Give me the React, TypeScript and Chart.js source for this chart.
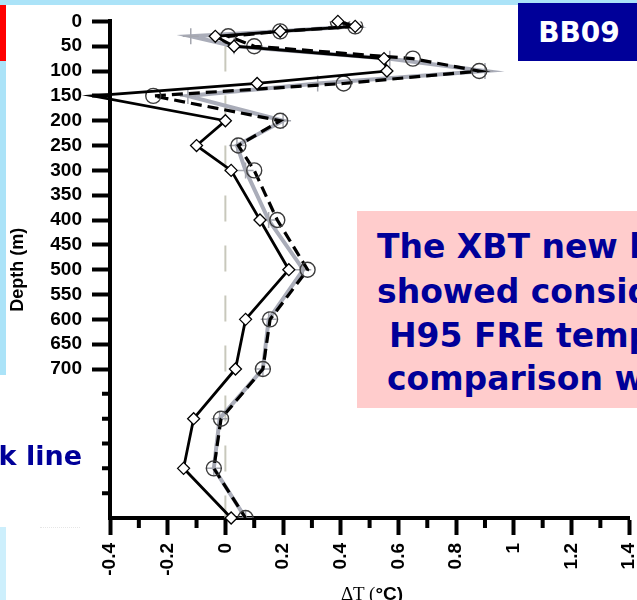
import React, { useEffect, useRef } from "react";
import { Chart, registerables } from "chart.js";

Chart.register(...registerables);

// Depth levels (m) shared by the three temperature-difference profiles
const DEPTHS = [0, 10, 20, 30, 50, 75, 100, 125, 150, 200, 250, 300, 400, 500, 600, 700, 800, 900, 1000];

// ΔT (°C) for each profile, one value per depth level
const DT_SOLID = [0.39, 0.45, 0.19, -0.035, 0.03, 0.55, 0.56, 0.11, -0.46, 0.0, -0.1, 0.02, 0.12, 0.22, 0.07, 0.035, -0.11, -0.145, 0.02];
const DT_DASHED = [0.39, 0.45, 0.19, 0.01, 0.1, 0.65, 0.88, 0.41, -0.25, 0.19, 0.045, 0.1, 0.18, 0.285, 0.155, 0.13, -0.015, -0.04, 0.07];
const DT_GRAY = [0.39, 0.45, 0.19, -0.12, 0.03, 0.57, 0.9, 0.32, -0.13, 0.2, 0.04, 0.07, 0.15, 0.27, 0.15, 0.13, -0.02, -0.04, 0.07];

// Axis ticks
const X_TICKS = [-0.4, -0.2, 0, 0.2, 0.4, 0.6, 0.8, 1, 1.2, 1.4];
const X_MINOR = [-0.3, -0.1, 0.1, 0.3, 0.5, 0.7, 0.9, 1.1, 1.3];
const Y_TICKS = [0, 50, 100, 150, 200, 250, 300, 350, 400, 450, 500, 550, 600, 650, 700, 750, 800, 850, 900, 950, 1000];
const Y_LABEL_MAX = 700;
const Y_MINOR = [750, 800, 850, 900, 950];

// Slide text
const BADGE = "BB09";
const NOTE_LINES = ["The XBT new line", "showed considerable", "H95 FRE temperature", "comparison with CTD"];
const SIDE_NOTE = "black line";

const SANS = "'Liberation Sans', Arial, sans-serif";
const SLIDE_FONT = "'DejaVu Sans', Verdana, sans-serif";
const NAVY = "#000099";

const toPoints = (xs: number[]) => xs.map((v, i) => ({ x: v, y: DEPTHS[i] }));

const minorTicks = {
  id: "minorTicks",
  afterDraw(chart: any) {
    const { ctx, chartArea, scales } = chart;
    const x = scales.x;
    const y = scales.y;
    ctx.save();
    ctx.strokeStyle = "#000";
    ctx.lineWidth = 4;
    ctx.beginPath();
    X_MINOR.forEach((v) => {
      const px = x.getPixelForValue(v);
      ctx.moveTo(px, chartArea.bottom);
      ctx.lineTo(px, chartArea.bottom + 10);
    });
    Y_MINOR.forEach((v) => {
      const py = y.getPixelForValue(v);
      ctx.moveTo(chartArea.left - 8, py);
      ctx.lineTo(chartArea.left, py);
    });
    ctx.stroke();
    ctx.restore();
  },
};

export default function App() {
  const ref = useRef<HTMLCanvasElement>(null);

  useEffect(() => {
    const canvas = ref.current;
    if (!canvas) return;
    const chart = new Chart(canvas, {
      type: "line",
      data: {
        datasets: [
          {
            label: "solid",
            data: toPoints(DT_SOLID),
            borderColor: "#000",
            borderWidth: 2.8,
            tension: 0,
            pointStyle: "rectRot",
            pointRadius: 6,
            pointBackgroundColor: "#fff",
            pointBorderColor: "#000",
            pointBorderWidth: 1.3,
            clip: false,
            order: 0,
          },
          {
            label: "dashed",
            data: toPoints(DT_DASHED),
            borderColor: "#000",
            borderWidth: 3.2,
            borderDash: [11, 6],
            tension: 0,
            pointStyle: "circle",
            pointRadius: 7.5,
            pointBackgroundColor: "rgba(0,0,0,0)",
            pointBorderColor: "#3c3c3c",
            pointBorderWidth: 1.4,
            order: 1,
          },
          {
            label: "gray",
            data: toPoints(DT_GRAY),
            borderColor: "#aaadb9",
            borderWidth: 4,
            tension: 0,
            pointStyle: "cross",
            pointRadius: 8,
            pointBorderColor: "#a4a6ae",
            pointBorderWidth: 1.5,
            order: 2,
          },
          {
            label: "zero",
            data: [
              { x: 0, y: 0 },
              { x: 0, y: 1000 },
            ],
            borderColor: "#c8c8bc",
            borderWidth: 2,
            borderDash: [26, 24],
            borderDashOffset: 26,
            pointRadius: 0,
            order: 3,
          },
        ],
      } as any,
      options: {
        animation: false,
        responsive: false,
        devicePixelRatio: 1,
        events: [],
        layout: { padding: { top: 17, right: 26, bottom: 0, left: 0 } },
        plugins: { legend: { display: false }, tooltip: { enabled: false } },
        scales: {
          x: {
            type: "linear",
            position: "bottom",
            min: -0.4,
            max: 1.4,
            afterBuildTicks: (s: any) => {
              s.ticks = X_TICKS.map((v) => ({ value: v }));
            },
            afterFit: (s: any) => {
              s.height = 82;
            },
            grid: { drawOnChartArea: false, tickLength: 17, tickWidth: 4, tickColor: "#000" },
            border: { display: true, color: "#000", width: 4 },
            ticks: {
              autoSkip: false,
              minRotation: 90,
              maxRotation: 90,
              padding: 8,
              color: "#000",
              font: { family: SANS, size: 19, weight: "bold" },
              callback: (v: any) => String(Number(Number(v).toFixed(1))),
            },
          },
          y: {
            type: "linear",
            reverse: true,
            min: 0,
            max: 1000,
            afterBuildTicks: (s: any) => {
              s.ticks = Y_TICKS.map((v) => ({ value: v }));
            },
            afterFit: (s: any) => {
              s.width = 110;
            },
            grid: {
              drawOnChartArea: false,
              tickLength: 18,
              tickWidth: 4,
              tickColor: (c: any) => (c.tick && c.tick.value > Y_LABEL_MAX ? "rgba(0,0,0,0)" : "#000"),
            },
            border: { display: true, color: "#000", width: 4 },
            ticks: {
              autoSkip: false,
              padding: 10,
              color: "#000",
              font: { family: SANS, size: 19, weight: "bold" },
              callback: (v: any) => (Number(v) <= Y_LABEL_MAX ? String(v) : ""),
            },
            title: {
              display: true,
              text: "Depth (m)",
              color: "#000",
              font: { family: SANS, size: 18, weight: "bold" },
              padding: { top: 7, bottom: 0 },
            },
          },
        },
      } as any,
      plugins: [minorTicks],
    });
    return () => chart.destroy();
  }, []);

  return (
    <div
      style={{
        position: "fixed",
        left: 0,
        top: 0,
        width: 637,
        height: 600,
        overflow: "hidden",
        background: "#fff",
      }}
    >
      <canvas
        ref={ref}
        width={660}
        height={600}
        style={{ position: "absolute", left: 0, top: 0, width: 660, height: 600 }}
      />

      {/* slide frame accents */}
      <div style={{ position: "absolute", left: 0, top: 0, width: 637, height: 5, background: "#abe3f8" }} />
      <div style={{ position: "absolute", left: 0, top: 5, width: 6, height: 370, background: "#abe3f8" }} />
      <div style={{ position: "absolute", left: 0, top: 5, width: 6, height: 56, background: "#ff0000" }} />
      <div style={{ position: "absolute", left: 0, top: 527, width: 6, height: 73, background: "#cdeffc" }} />
      <div
        style={{
          position: "absolute",
          left: 40,
          top: 527,
          width: 40,
          height: 0,
          borderTop: "1px dotted #e6e6e6",
        }}
      />

      {/* station badge */}
      <div
        style={{
          position: "absolute",
          left: 518,
          top: 3,
          width: 119,
          height: 58,
          background: NAVY,
        }}
      />
      <div
        style={{
          position: "absolute",
          left: 518,
          top: 19,
          width: 122,
          textAlign: "center",
          color: "#fff",
          fontFamily: SLIDE_FONT,
          fontWeight: "bold",
          fontSize: 28,
          lineHeight: 1,
          whiteSpace: "nowrap",
        }}
      >
        {BADGE}
      </div>

      {/* note box */}
      <div
        style={{
          position: "absolute",
          left: 357,
          top: 211,
          width: 290,
          height: 197,
          background: "#ffcccc",
        }}
      />
      {NOTE_LINES.map((t, i) => (
        <div
          key={i}
          style={{
            position: "absolute",
            left: [377, 377, 389, 387][i],
            top: [230, 275, 319, 362][i],
            color: NAVY,
            fontFamily: SLIDE_FONT,
            fontWeight: "bold",
            fontSize: 33,
            lineHeight: 1,
            whiteSpace: "nowrap",
          }}
        >
          {t}
        </div>
      ))}

      {/* side note, running in from the left */}
      <div
        style={{
          position: "absolute",
          right: 637 - 82,
          top: 442,
          color: NAVY,
          fontFamily: SLIDE_FONT,
          fontWeight: "bold",
          fontSize: 27,
          lineHeight: 1,
          whiteSpace: "nowrap",
          textAlign: "right",
        }}
      >
        {SIDE_NOTE}
      </div>

      {/* x-axis title */}
      <div
        style={{
          position: "absolute",
          left: 272,
          top: 584,
          width: 200,
          textAlign: "center",
          color: "#000",
          fontSize: 19,
          lineHeight: 1,
          whiteSpace: "nowrap",
        }}
      >
        <span style={{ fontFamily: "'Liberation Serif', 'Times New Roman', serif" }}>ΔT (</span>
        <span style={{ fontFamily: SANS, fontWeight: "bold" }}>°C)</span>
      </div>
    </div>
  );
}
